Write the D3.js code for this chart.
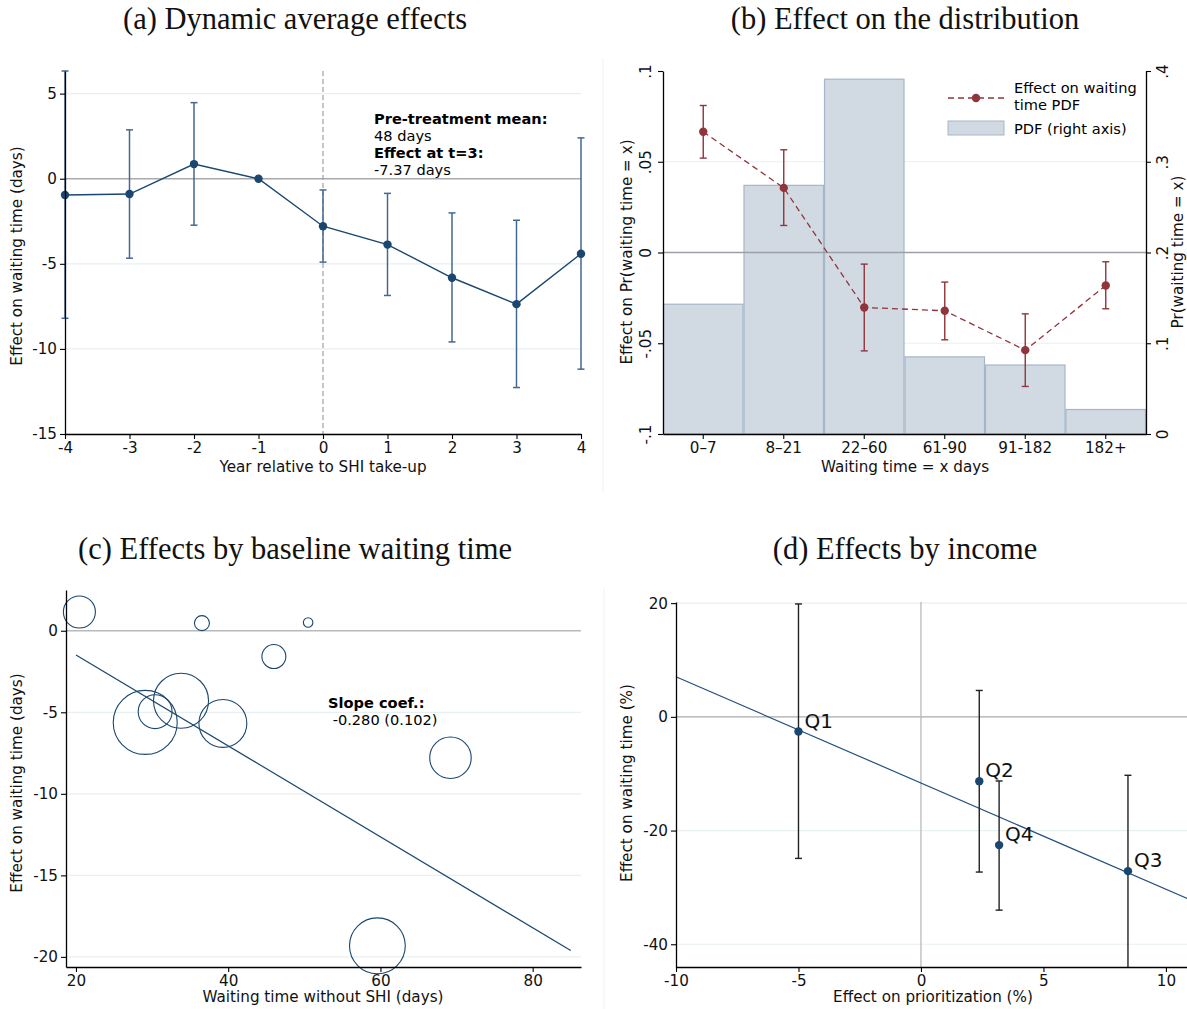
<!DOCTYPE html>
<html><head><meta charset="utf-8">
<script src="https://cdn.jsdelivr.net/npm/d3@7"></script>
<style>body{margin:0;background:#fff}svg{display:block}</style>
</head><body>
<script>
// ---------- Panel (a) data ----------
const aYears = [-4, -3, -2, -1, 0, 1, 2, 3, 4];
const aEst   = [-0.96, -0.90, 0.86, 0, -2.79, -3.87, -5.82, -7.37, -4.41];
const aLo    = [-8.2, -4.67, -2.73, null, -4.9, -6.86, -9.59, -12.27, -11.19];
const aHi    = [6.33, 2.87, 4.47, null, -0.66, -0.86, -2.01, -2.44, 2.4];
const aYTicks = [5, 0, -5, -10, -15];

// ---------- Panel (b) data ----------
const bCats = ["0\u20137", "8\u201321", "22\u201360", "61-90", "91-182", "182+"];
const bPdf  = [0.143, 0.274, 0.391, 0.085, 0.076, 0.027];
const bEff  = [0.0665, 0.0356, -0.0303, -0.0321, -0.0538, -0.0182];
const bLo   = [0.052, 0.0149, -0.0542, -0.0481, -0.0738, -0.031];
const bHi   = [0.081, 0.0566, -0.0064, -0.0163, -0.0338, -0.0051];
const bLeftTicks = [0.1, 0.05, 0, -0.05, -0.1];
const bLeftLabels = [".1", ".05", "0", "-.05", "-.1"];
const bRightTicks = [0.4, 0.3, 0.2, 0.1, 0];
const bRightLabels = [".4", ".3", ".2", ".1", "0"];

// ---------- Panel (c) data ----------
const cX = [20.45, 36.55, 50.5, 46.0, 33.8, 30.4, 29.1, 39.3, 69.2, 59.6];
const cY = [1.15, 0.47, 0.51, -1.58, -4.29, -4.96, -5.62, -5.68, -7.79, -19.32];
const cW = [2.5, 0.55, 0.22, 1.4, 7.4, 2.8, 10.0, 5.6, 4.2, 7.6];
const cFitX = [20, 85];
const cFitY = [-1.48, -19.61];
const cXTicks = [20, 40, 60, 80];
const cYTicks = [0, -5, -10, -15, -20];

// ---------- Panel (d) data ----------
const dLab = ["Q1", "Q2", "Q4", "Q3"];
const dX   = [-5.0, 2.38, 3.19, 8.45];
const dY   = [-2.59, -11.34, -22.56, -27.14];
const dLo  = [-24.9, -27.3, -34.0, -60];
const dHi  = [19.86, 4.64, -11.28, -10.28];
const dFitX = [-10, 10.87];
const dFitY = [7.05, -31.96];
const dXTicks = [-10, -5, 0, 5, 10];
const dYTicks = [20, 0, -20, -40];

const W = 1187, H = 1009;
const NAVY = "#1a476f", RED = "#90353b", GRID = "#e8eff1", ZERO = "#a9a9a9";
const SANS = "DejaVu Sans", SERIF = "Liberation Serif";
const FS = "15.2px", FSB = "14.6px";
const svg = d3.select("body").append("svg").attr("width", W).attr("height", H)
  .style("font-family", SANS);

function title(x, y, t) {
  svg.append("text").attr("x", x).attr("y", y).attr("text-anchor", "middle")
    .style("font-family", SERIF).style("font-size", "30.5px").attr("fill", "#111").text(t);
}
function grid(g, ys, y, x0, x1, skip) {
  ys.forEach(v => { if (v === skip) return;
    g.append("line").attr("x1", x0).attr("x2", x1).attr("y1", y(v)).attr("y2", y(v))
      .attr("stroke", GRID).attr("stroke-width", 1.2); });
}
function styleAxis(sel) {
  sel.select(".domain").attr("stroke", "#000").attr("stroke-width", 1.3);
  sel.selectAll(".tick line").attr("stroke", "#000").attr("stroke-width", 1.1);
  sel.selectAll(".tick text").style("font-size", FS).attr("fill", "#111").style("font-family", SANS);
}
function vtitle(x, y, t) {
  svg.append("text").attr("transform", `translate(${x},${y}) rotate(-90)`)
    .attr("text-anchor", "middle").style("font-size", FS).attr("fill", "#111").text(t);
}
function htitle(x, y, t) {
  svg.append("text").attr("x", x).attr("y", y).attr("text-anchor", "middle")
    .style("font-size", FS).attr("fill", "#111").text(t);
}
function block(x, y, lines, lh) {
  lines.forEach((l, i) => svg.append("text").attr("x", x).attr("y", y + i * lh)
    .attr("xml:space", "preserve").style("font-size", FSB).attr("fill", "#000")
    .style("font-weight", l[1] ? "bold" : "normal").text(l[0]));
}

// faint outer borders of right panels
svg.append("line").attr("x1", 603).attr("x2", 603).attr("y1", 58).attr("y2", 492).attr("stroke", "#eef1f4");
svg.append("line").attr("x1", 604).attr("x2", 604).attr("y1", 588).attr("y2", 1009).attr("stroke", "#eef1f4");

// =============== Panel (a) ===============
{
  title(295, 29, "(a) Dynamic average effects");
  const x = d3.scaleLinear().domain([-4, 4]).range([65, 581]);
  const y = d3.scaleLinear().domain([-15, 6.33]).range([434, 71]);
  const g = svg.append("g");
  grid(g, aYTicks, y, 65, 581, 0);
  g.append("line").attr("x1", 65).attr("x2", 581).attr("y1", y(0)).attr("y2", y(0)).attr("stroke", ZERO).attr("stroke-width", 1.3);
  g.append("line").attr("x1", x(0)).attr("x2", x(0)).attr("y1", 71).attr("y2", 434)
    .attr("stroke", "#a0a0a0").attr("stroke-width", 1.2).attr("stroke-dasharray", "5,3");
  const EB = "#44698f";
  aYears.forEach((yr, i) => {
    if (aLo[i] === null) return;
    const xx = x(yr);
    g.append("line").attr("x1", xx).attr("x2", xx).attr("y1", y(aLo[i])).attr("y2", y(aHi[i])).attr("stroke", EB).attr("stroke-width", 1.5);
    [aLo[i], aHi[i]].forEach(v => g.append("line").attr("x1", xx - 3.5).attr("x2", xx + 3.5).attr("y1", y(v)).attr("y2", y(v)).attr("stroke", EB).attr("stroke-width", 1.5));
  });
  const line = d3.line().x((d, i) => x(aYears[i])).y(d => y(d));
  g.append("path").attr("d", line(aEst)).attr("fill", "none").attr("stroke", NAVY).attr("stroke-width", 1.4);
  g.selectAll("circle.a").data(aEst).join("circle").attr("cx", (d, i) => x(aYears[i])).attr("cy", d => y(d)).attr("r", 4.2).attr("fill", NAVY);
  const ax = svg.append("g").attr("transform", "translate(0,434)").call(d3.axisBottom(x).tickValues(aYears).tickSize(5).tickSizeOuter(0));
  styleAxis(ax);
  ax.selectAll(".tick text").text(d => String(d));
  const ay = svg.append("g").attr("transform", "translate(65,0)").call(d3.axisLeft(y).tickValues(aYTicks).tickSize(5).tickSizeOuter(0));
  styleAxis(ay);
  ay.selectAll(".tick text").text(d => String(d));
  htitle(323, 472, "Year relative to SHI take-up");
  vtitle(22, 256, "Effect on waiting time (days)");
  block(374, 124, [["Pre-treatment mean:", true], ["48 days", false], ["Effect at t=3:", true], ["-7.37 days", false]], 17);
}

// =============== Panel (b) ===============
{
  title(905, 29, "(b) Effect on the distribution");
  const x = d3.scaleBand().domain(bCats).range([663, 1146]).padding(0);
  const yl = d3.scaleLinear().domain([-0.1, 0.1]).range([434, 71]);
  const yr = d3.scaleLinear().domain([0, 0.4]).range([434, 71]);
  const g = svg.append("g");
  grid(g, [0.05, -0.05], yl, 663, 1146);
  g.selectAll("rect.bar").data(bPdf).join("rect")
    .attr("x", (d, i) => x(bCats[i]) + 0.5).attr("width", x.bandwidth() - 1)
    .attr("y", d => yr(d)).attr("height", d => 434 - yr(d))
    .attr("fill", "#d1dae3").attr("stroke", "#a6b6c7").attr("stroke-width", 1.2);
  g.append("line").attr("x1", 663).attr("x2", 1146).attr("y1", yl(0)).attr("y2", yl(0)).attr("stroke", "#9aa0a6").attr("stroke-width", 1.3);
  const cx = i => x(bCats[i]) + x.bandwidth() / 2;
  bEff.forEach((v, i) => {
    g.append("line").attr("x1", cx(i)).attr("x2", cx(i)).attr("y1", yl(bLo[i])).attr("y2", yl(bHi[i])).attr("stroke", RED).attr("stroke-width", 1.4);
    [bLo[i], bHi[i]].forEach(w => g.append("line").attr("x1", cx(i) - 3.5).attr("x2", cx(i) + 3.5).attr("y1", yl(w)).attr("y2", yl(w)).attr("stroke", RED).attr("stroke-width", 1.4));
  });
  const line = d3.line().x((d, i) => cx(i)).y(d => yl(d));
  g.append("path").attr("d", line(bEff)).attr("fill", "none").attr("stroke", RED).attr("stroke-width", 1.3).attr("stroke-dasharray", "6,4");
  g.selectAll("circle.b").data(bEff).join("circle").attr("cx", (d, i) => cx(i)).attr("cy", d => yl(d)).attr("r", 4.2).attr("fill", RED);
  const ax = svg.append("g").attr("transform", "translate(0,434)").call(d3.axisBottom(x).tickSize(5).tickSizeOuter(0));
  styleAxis(ax);
  const ayl = svg.append("g").attr("transform", "translate(663,0)").call(d3.axisLeft(yl).tickValues(bLeftTicks).tickSize(5).tickSizeOuter(0).tickFormat((d, i) => bLeftLabels[i]));
  styleAxis(ayl);
  ayl.selectAll(".tick text").attr("transform", "rotate(-90)").attr("x", 0).attr("y", -17).attr("dy", "0.35em").attr("text-anchor", "middle");
  const ayr = svg.append("g").attr("transform", "translate(1146,0)").call(d3.axisRight(yr).tickValues(bRightTicks).tickSize(5).tickSizeOuter(0).tickFormat((d, i) => bRightLabels[i]));
  styleAxis(ayr);
  ayr.selectAll(".tick text").attr("transform", "rotate(-90)").attr("x", 0).attr("y", 17).attr("dy", "0.35em").attr("text-anchor", "middle");
  htitle(905, 472, "Waiting time = x days");
  vtitle(632, 252, "Effect on Pr(waiting time = x)");
  vtitle(1183, 252, "Pr(waiting time = x)");
  const lg = svg.append("g");
  lg.append("line").attr("x1", 948).attr("x2", 1006).attr("y1", 98).attr("y2", 98).attr("stroke", RED).attr("stroke-width", 1.3).attr("stroke-dasharray", "6,4");
  lg.append("circle").attr("cx", 976).attr("cy", 98).attr("r", 4.2).attr("fill", RED);
  block(1014, 93, [["Effect on waiting", false], ["time PDF", false]], 17);
  lg.append("rect").attr("x", 948).attr("y", 121).attr("width", 56).attr("height", 14).attr("fill", "#d1dae3").attr("stroke", "#a6b6c7");
  block(1014, 134, [["PDF (right axis)", false]], 17);
}

// =============== Panel (c) ===============
{
  title(295, 559, "(c) Effects by baseline waiting time");
  const x = d3.scaleLinear().domain([18.69, 86.35]).range([66, 581]);
  const y = d3.scaleLinear().domain([-20.62, 2.5]).range([967, 590]);
  const r = d3.scaleSqrt().domain([0, 10]).range([0, 32]);
  const g = svg.append("g");
  grid(g, cYTicks, y, 66, 581, 0);
  g.append("line").attr("x1", 66).attr("x2", 581).attr("y1", y(0)).attr("y2", y(0)).attr("stroke", "#b9b9b9").attr("stroke-width", 1.3);
  g.selectAll("circle.c").data(cW).join("circle").attr("cx", (d, i) => x(cX[i])).attr("cy", (d, i) => y(cY[i])).attr("r", d => r(d))
    .attr("fill", "none").attr("stroke", NAVY).attr("stroke-width", 1.1);
  g.append("line").attr("x1", x(cFitX[0])).attr("x2", x(cFitX[1])).attr("y1", y(cFitY[0])).attr("y2", y(cFitY[1])).attr("stroke", NAVY).attr("stroke-width", 1.2);
  const ax = svg.append("g").attr("transform", "translate(0,967)").call(d3.axisBottom(x).tickValues(cXTicks).tickSize(5).tickSizeOuter(0));
  styleAxis(ax);
  const ay = svg.append("g").attr("transform", "translate(66,0)").call(d3.axisLeft(y).tickValues(cYTicks).tickSize(5).tickSizeOuter(0));
  styleAxis(ay);
  ay.selectAll(".tick text").text(d => String(d));
  htitle(323, 1002, "Waiting time without SHI (days)");
  vtitle(22, 783, "Effect on waiting time (days)");
  block(328, 708, [["Slope coef.:", true], [" -0.280 (0.102)", false]], 17);
}

// =============== Panel (d) ===============
{
  title(905, 559, "(d) Effects by income");
  const x = d3.scaleLinear().domain([-10, 10.86]).range([676, 1187]);
  const y = d3.scaleLinear().domain([-44, 20.2]).range([967, 602]);
  const g = svg.append("g");
  grid(g, dYTicks, y, 676, 1187, 0);
  g.append("line").attr("x1", 676).attr("x2", 1187).attr("y1", y(0)).attr("y2", y(0)).attr("stroke", ZERO).attr("stroke-width", 1.3);
  g.append("line").attr("x1", x(0)).attr("x2", x(0)).attr("y1", 602).attr("y2", 967).attr("stroke", "#b9b9b9").attr("stroke-width", 1.3);
  g.append("line").attr("x1", x(dFitX[0])).attr("x2", x(dFitX[1])).attr("y1", y(dFitY[0])).attr("y2", y(dFitY[1])).attr("stroke", "#24507d").attr("stroke-width", 1.2);
  const clip = v => Math.max(v, -44);
  dX.forEach((v, i) => {
    const xx = x(v);
    g.append("line").attr("x1", xx).attr("x2", xx).attr("y1", y(clip(dLo[i]))).attr("y2", y(dHi[i])).attr("stroke", "#222").attr("stroke-width", 1.4);
    g.append("line").attr("x1", xx - 3.5).attr("x2", xx + 3.5).attr("y1", y(dHi[i])).attr("y2", y(dHi[i])).attr("stroke", "#222").attr("stroke-width", 1.4);
    if (dLo[i] >= -44) g.append("line").attr("x1", xx - 3.5).attr("x2", xx + 3.5).attr("y1", y(dLo[i])).attr("y2", y(dLo[i])).attr("stroke", "#222").attr("stroke-width", 1.4);
  });
  g.selectAll("circle.d").data(dY).join("circle").attr("cx", (d, i) => x(dX[i])).attr("cy", d => y(d)).attr("r", 4.2).attr("fill", NAVY);
  g.selectAll("text.q").data(dLab).join("text").attr("x", (d, i) => x(dX[i]) + 6).attr("y", (d, i) => y(dY[i]) - 4)
    .style("font-size", "20px").attr("fill", "#111").text(d => d);
  const ax = svg.append("g").attr("transform", "translate(0,967)").call(d3.axisBottom(x).tickValues(dXTicks).tickSize(5).tickSizeOuter(0));
  styleAxis(ax);
  ax.selectAll(".tick text").text(d => String(d));
  const ay = svg.append("g").attr("transform", "translate(676,0)").call(d3.axisLeft(y).tickValues(dYTicks).tickSize(5).tickSizeOuter(0));
  styleAxis(ay);
  ay.selectAll(".tick text").text(d => String(d));
  htitle(933, 1002, "Effect on prioritization (%)");
  vtitle(632, 783, "Effect on waiting time (%)");
}
</script>
</body></html>
